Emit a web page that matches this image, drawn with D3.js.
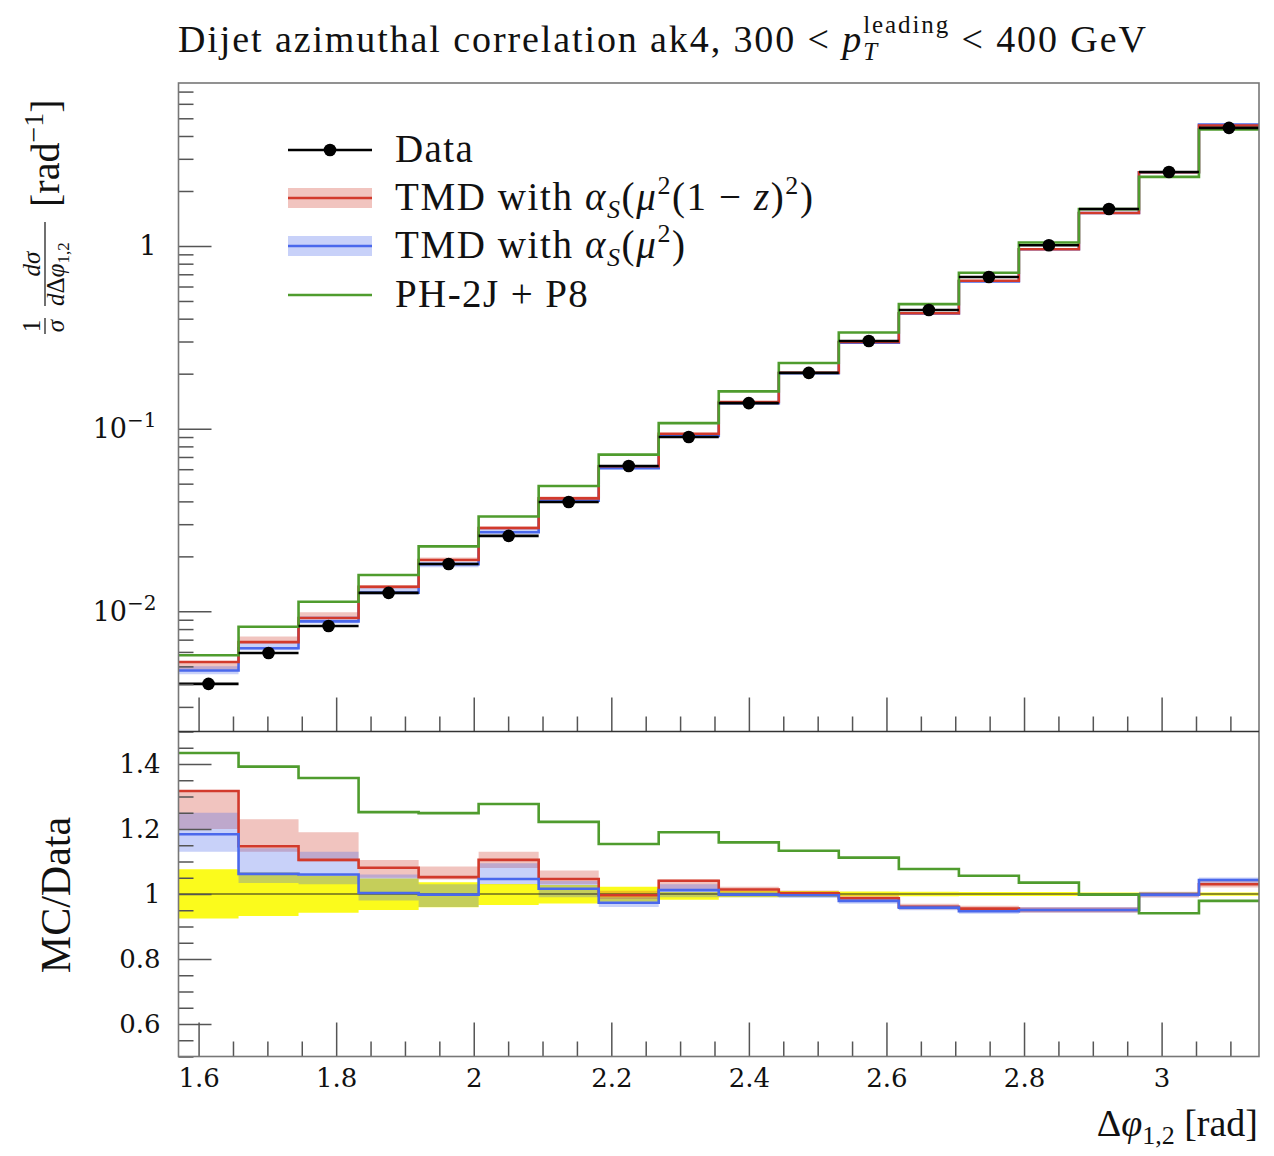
<!DOCTYPE html>
<html>
<head>
<meta charset="utf-8">
<script src="https://cdn.jsdelivr.net/npm/d3@7"></script>
<style>
body{margin:0;background:#fff}
text{font-family:"Liberation Serif",serif;fill:#111}
</style>
</head>
<body>
<svg width="1274" height="1156"></svg>
<script>
// bin edges (rad), 18 bins from pi/2 to pi
var edges=[1.5708,1.6581,1.7453,1.8326,1.9199,2.0071,2.0944,2.1817,2.2689,2.3562,2.4435,2.5307,2.6180,2.7053,2.7925,2.8798,2.9671,3.0543,3.1416]
// measured cross section
var dataVals=[0.00401,0.00592,0.00832,0.01262,0.01817,0.0259,0.0397,0.0625,0.0901,0.138,0.202,0.302,0.446,0.676,1.01,1.594,2.54,4.43]
// data uncertainty (ratio band)
var dataLo=[0.925,0.932,0.942,0.951,0.959,0.966,0.971,0.976,0.982,0.99,0.991,0.992,0.993,0.994,0.994,0.995,0.995,0.995]
var dataHi=[1.076,1.066,1.056,1.048,1.036,1.031,1.028,1.022,1.006,1.01,1.009,1.008,1.007,1.006,1.006,1.005,1.005,1.005]
// TMD with alpha_s(mu^2(1-z)^2) / data
var ratioRed=[1.317,1.147,1.105,1.081,1.052,1.105,1.046,0.996,1.041,1.014,1.002,0.987,0.961,0.955,0.951,0.951,0.998,1.03]
var redLo=[1.20,1.13,1.10,1.05,1.045,1.08,1.03,0.985,1.01,1.005,0.993,0.978,0.952,0.946,0.942,0.942,0.989,1.02]
var redHi=[1.32,1.23,1.19,1.105,1.085,1.13,1.072,1.01,1.045,1.022,1.011,0.996,0.97,0.964,0.96,0.96,1.007,1.04]
// TMD with alpha_s(mu^2) / data
var ratioBlue=[1.184,1.062,1.06,1.003,0.998,1.046,1.016,0.973,1.012,0.998,0.996,0.979,0.958,0.947,0.951,0.951,0.998,1.043]
var blueLo=[1.13,1.034,1.03,0.98,0.96,1.03,0.99,0.96,0.99,0.99,0.988,0.97,0.95,0.939,0.943,0.943,0.99,1.035]
var blueHi=[1.25,1.141,1.13,1.06,1.03,1.095,1.04,0.99,1.03,1.006,1.004,0.988,0.966,0.955,0.959,0.959,1.006,1.051]
// PH-2J + P8 / data
var ratioGreen=[1.434,1.392,1.357,1.252,1.249,1.277,1.222,1.154,1.19,1.159,1.133,1.112,1.077,1.056,1.035,0.998,0.941,0.979]

var xMajor=[1.6,1.8,2,2.2,2.4,2.6,2.8,3]
var xLabels=["1.6","1.8","2","2.2","2.4","2.6","2.8","3"]
var ratioMajor=[0.6,0.8,1,1.2,1.4]
var ratioLabels=["0.6","0.8","1","1.2","1.4"]
var logMajor=[0.01,0.1,1]

var cRed="#d23a2c", cBlue="#4a68ec", cGreen="#4f9c2e", cYellow="#fbfb1c"
var numFont="DejaVu Serif, serif"

var svg=d3.select('svg')

var x=d3.scaleLinear().domain([Math.PI/2,Math.PI]).range([178.5,1259])
var yTop=d3.scaleLog().domain([0.0022,7.8]).range([731.5,83])
var yRat=d3.scaleLinear().domain([0.5,1.5]).range([1056.5,731.5])

// clip paths
var defs=svg.append('defs')
defs.append('clipPath').attr('id','clipTop').append('rect')
  .attr('x',178.5).attr('y',83).attr('width',1080.5).attr('height',648.5)
defs.append('clipPath').attr('id','clipRat').append('rect')
  .attr('x',178.5).attr('y',731.5).attr('width',1080.5).attr('height',325)

function steps(vals){
  var pts=vals.map(function(v,i){return [edges[i],v]})
  pts.push([edges[vals.length],vals[vals.length-1]])
  return pts
}
function bandSteps(lo,hi){
  var pts=lo.map(function(v,i){return [edges[i],v,hi[i]]})
  pts.push([edges[lo.length],lo[lo.length-1],hi[hi.length-1]])
  return pts
}
function mul(a,b){return a.map(function(v,i){return v*b[i]})}

var lineTop=d3.line().x(function(d){return x(d[0])}).y(function(d){return yTop(d[1])}).curve(d3.curveStepAfter)
var areaTop=d3.area().x(function(d){return x(d[0])}).y0(function(d){return yTop(d[1])}).y1(function(d){return yTop(d[2])}).curve(d3.curveStepAfter)
var lineRat=d3.line().x(function(d){return x(d[0])}).y(function(d){return yRat(d[1])}).curve(d3.curveStepAfter)
var areaRat=d3.area().x(function(d){return x(d[0])}).y0(function(d){return yRat(d[1])}).y1(function(d){return yRat(d[2])}).curve(d3.curveStepAfter)

// ---------- top panel ----------
var gTop=svg.append('g').attr('clip-path','url(#clipTop)')
gTop.append('path').attr('d',areaTop(bandSteps(mul(dataVals,redLo),mul(dataVals,redHi)))).attr('fill',cRed).attr('fill-opacity',0.3)
gTop.append('path').attr('d',areaTop(bandSteps(mul(dataVals,blueLo),mul(dataVals,blueHi)))).attr('fill',cBlue).attr('fill-opacity',0.3)
gTop.append('path').attr('d',lineTop(steps(mul(dataVals,ratioBlue)))).attr('fill','none').attr('stroke',cBlue).attr('stroke-width',2.6)
gTop.append('path').attr('d',lineTop(steps(mul(dataVals,ratioRed)))).attr('fill','none').attr('stroke',cRed).attr('stroke-width',2.6)
gTop.append('path').attr('d',lineTop(steps(mul(dataVals,ratioGreen)))).attr('fill','none').attr('stroke',cGreen).attr('stroke-width',2.6)

// data points with bin-width bars
gTop.selectAll('line.xerr').data(dataVals).enter().append('line')
  .attr('class','xerr')
  .attr('x1',function(d,i){return x(edges[i])})
  .attr('x2',function(d,i){return x(edges[i+1])})
  .attr('y1',function(d){return yTop(d)}).attr('y2',function(d){return yTop(d)})
  .attr('stroke','#000').attr('stroke-width',2.6)
gTop.selectAll('circle.pt').data(dataVals).enter().append('circle')
  .attr('class','pt')
  .attr('cx',function(d,i){return x((edges[i]+edges[i+1])/2)})
  .attr('cy',function(d){return yTop(d)})
  .attr('r',6.3).attr('fill','#000')

// ---------- ratio panel ----------
var gRat=svg.append('g').attr('clip-path','url(#clipRat)')
gRat.append('path').attr('d',areaRat(bandSteps(dataLo,dataHi))).attr('fill',cYellow)
gRat.append('path').attr('d',areaRat(bandSteps(redLo,redHi))).attr('fill',cRed).attr('fill-opacity',0.3)
gRat.append('path').attr('d',areaRat(bandSteps(blueLo,blueHi))).attr('fill',cBlue).attr('fill-opacity',0.3)
gRat.append('line').attr('x1',x(edges[0])).attr('x2',x(edges[edges.length-1]))
  .attr('y1',yRat(1)).attr('y2',yRat(1)).attr('stroke','#222').attr('stroke-width',1.2)
gRat.append('path').attr('d',lineRat(steps(ratioRed))).attr('fill','none').attr('stroke',cRed).attr('stroke-width',2.6)
gRat.append('path').attr('d',lineRat(steps(ratioBlue))).attr('fill','none').attr('stroke',cBlue).attr('stroke-width',2.6)
gRat.append('path').attr('d',lineRat(steps(ratioGreen))).attr('fill','none').attr('stroke',cGreen).attr('stroke-width',2.6)

// ---------- axes ----------
function styleAxis(g){
  g.select('.domain').remove()
  g.selectAll('.tick line').attr('stroke','#555').attr('stroke-width',1.5)
  g.attr('font-size',26)
  g.selectAll('.tick text').attr('fill','#111').style('font-family',numFont)
}
var isMajor=function(list){return function(v){return list.some(function(m){return Math.abs(m-v)<1e-6})}}

// x axes (ticks point up)
var xMinor=x.ticks(30).filter(function(v){return !isMajor(xMajor)(v)})
;[731.5,1056.5].forEach(function(yy,k){
  svg.append('g').attr('transform','translate(0,'+yy+')')
    .call(d3.axisBottom(x).tickValues(xMinor).tickSize(-15).tickFormat('')).call(styleAxis)
  var g=svg.append('g').attr('transform','translate(0,'+yy+')')
    .call(d3.axisBottom(x).tickValues(xMajor).tickSize(-34).tickPadding(12)
      .tickFormat(function(d){return k==1?xLabels[xMajor.indexOf(d)]:''}))
  g.call(styleAxis)
})

// top y axis (log)
var logMinor=yTop.ticks().filter(function(v){return !isMajor(logMajor)(v)})
svg.append('g').attr('transform','translate(178.5,0)')
  .call(d3.axisLeft(yTop).tickValues(logMinor).tickSize(-15).tickFormat('')).call(styleAxis)
var gLog=svg.append('g').attr('transform','translate(178.5,0)')
  .call(d3.axisLeft(yTop).tickValues(logMajor).tickSize(-33).tickPadding(22).tickFormat(''))
gLog.call(styleAxis)
gLog.attr('font-size',27)
gLog.selectAll('.tick text').each(function(d){
  var t=d3.select(this)
  var e=Math.round(Math.log10(d))
  if(e===0){t.text('1');return}
  t.append('tspan').text('10')
  t.append('tspan').text('\u2212'+(-e)).attr('font-size',20).attr('dy','-0.55em')
})

// ratio y axis
var ratMinor=yRat.ticks(20).filter(function(v){return !isMajor(ratioMajor)(v)})
svg.append('g').attr('transform','translate(178.5,0)')
  .call(d3.axisLeft(yRat).tickValues(ratMinor).tickSize(-15).tickFormat('')).call(styleAxis)
svg.append('g').attr('transform','translate(178.5,0)')
  .call(d3.axisLeft(yRat).tickValues(ratioMajor).tickSize(-33).tickPadding(18)
    .tickFormat(function(d){return ratioLabels[ratioMajor.indexOf(d)]})).call(styleAxis)

// frames
svg.append('rect').attr('x',178.5).attr('y',83).attr('width',1080.5).attr('height',973.5)
  .attr('fill','none').attr('stroke','#777').attr('stroke-width',1.6)
svg.append('line').attr('x1',178.5).attr('x2',1259).attr('y1',731.5).attr('y2',731.5)
  .attr('stroke','#333').attr('stroke-width',1.6)

// ---------- text helpers ----------
function rich(sel,parts){
  var cur=0
  parts.forEach(function(p){
    var t=sel.append('tspan').text(p.t)
    var off=p.off||0
    t.attr('dy',off-cur); cur=off
    if(p.i) t.attr('font-style','italic')
    if(p.s) t.attr('font-size',p.s)
  })
  return sel
}

// title
var title=svg.append('text').attr('x',178).attr('y',52).attr('font-size',38).attr('letter-spacing',1.9)
title.append('tspan').text('Dijet azimuthal correlation ak4, 300 < ')
title.append('tspan').text('p').attr('font-style','italic')
var tLead=title.append('tspan').text('leading').attr('font-size',25).attr('dy',-19)
var wLead=tLead.node().getComputedTextLength()
var tT=title.append('tspan').text('T').attr('font-size',25).attr('font-style','italic').attr('dy',27).attr('dx',-wLead)
var wT=tT.node().getComputedTextLength()
title.append('tspan').text(' < 400 GeV').attr('dy',-8).attr('dx',wLead-wT)

// legend
var lx1=288,lx2=372,tx=395
svg.append('line').attr('x1',lx1).attr('x2',lx2).attr('y1',150).attr('y2',150).attr('stroke','#000').attr('stroke-width',2.6)
svg.append('circle').attr('cx',(lx1+lx2)/2).attr('cy',150).attr('r',6.3).attr('fill','#000')
svg.append('text').attr('x',tx).attr('y',162).attr('font-size',39).attr('letter-spacing',1.4).text('Data')

svg.append('rect').attr('x',lx1).attr('y',188).attr('width',lx2-lx1).attr('height',20).attr('fill',cRed).attr('fill-opacity',0.3)
svg.append('line').attr('x1',lx1).attr('x2',lx2).attr('y1',198).attr('y2',198).attr('stroke',cRed).attr('stroke-width',2.6)
rich(svg.append('text').attr('x',tx).attr('y',210).attr('font-size',39).attr('letter-spacing',1.6),[
  {t:'TMD with '},{t:'\u03b1',i:1},{t:'S',i:1,s:26,off:8},{t:'(',off:0},{t:'\u03bc',i:1},
  {t:'2',s:26,off:-16},{t:'(1 \u2212 ',off:0},{t:'z',i:1},{t:')'},{t:'2',s:26,off:-16},{t:')',off:0}])

svg.append('rect').attr('x',lx1).attr('y',236).attr('width',lx2-lx1).attr('height',20).attr('fill',cBlue).attr('fill-opacity',0.3)
svg.append('line').attr('x1',lx1).attr('x2',lx2).attr('y1',246).attr('y2',246).attr('stroke',cBlue).attr('stroke-width',2.6)
rich(svg.append('text').attr('x',tx).attr('y',258).attr('font-size',39).attr('letter-spacing',1.6),[
  {t:'TMD with '},{t:'\u03b1',i:1},{t:'S',i:1,s:26,off:8},{t:'(',off:0},{t:'\u03bc',i:1},
  {t:'2',s:26,off:-16},{t:')',off:0}])

svg.append('line').attr('x1',lx1).attr('x2',lx2).attr('y1',295).attr('y2',295).attr('stroke',cGreen).attr('stroke-width',2.6)
svg.append('text').attr('x',tx).attr('y',307).attr('font-size',39).attr('letter-spacing',1.4).text('PH-2J + P8')

// y title (top)
var yt=svg.append('g').attr('transform','translate(45,210) rotate(-90)')
yt.append('text').attr('x',-116).attr('y',-5).attr('font-size',25).attr('text-anchor','middle').text('1')
yt.append('line').attr('x1',-124).attr('x2',-108).attr('y1',0).attr('y2',0).attr('stroke','#111').attr('stroke-width',1.2)
yt.append('text').attr('x',-116).attr('y',19).attr('font-size',25).attr('text-anchor','middle').attr('font-style','italic').text('\u03c3')
rich(yt.append('text').attr('x',-54).attr('y',-5).attr('font-size',25).attr('text-anchor','middle'),[{t:'d\u03c3',i:1}])
yt.append('line').attr('x1',-96).attr('x2',-12).attr('y1',0).attr('y2',0).attr('stroke','#111').attr('stroke-width',1.2)
rich(yt.append('text').attr('x',-96).attr('y',19).attr('font-size',25),[
  {t:'d',i:1},{t:'\u0394'},{t:'\u03c6',i:1},{t:'1,2',s:17,off:5}])
rich(yt.append('text').attr('x',3).attr('y',14).attr('font-size',40),[
  {t:'[rad'},{t:'\u22121',s:28,off:-16},{t:']',off:0}])

// y title (ratio)
svg.append('text').attr('transform','translate(70,895) rotate(-90)').attr('text-anchor','middle')
  .attr('font-size',42).text('MC/Data')

// x title
rich(svg.append('text').attr('x',1258).attr('y',1136).attr('font-size',38).attr('text-anchor','end'),[
  {t:'\u0394'},{t:'\u03c6',i:1},{t:'1,2',s:26,off:8},{t:' [rad]',off:0}])
</script>
</body>
</html>
